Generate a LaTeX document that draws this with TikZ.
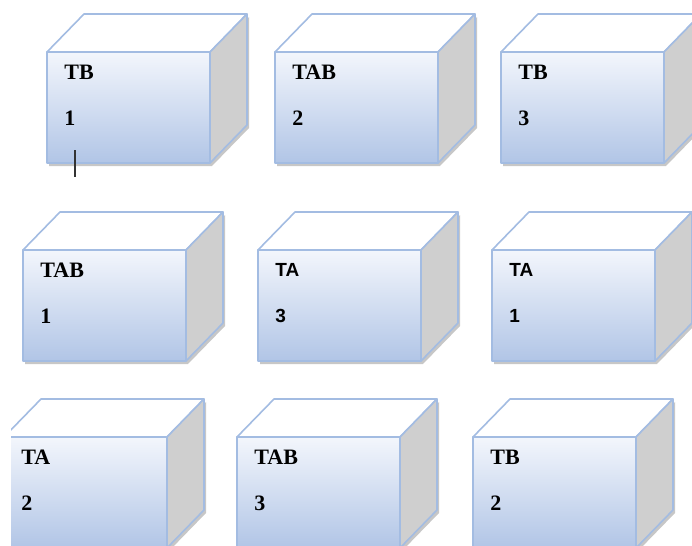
\documentclass[tikz,border=0pt]{standalone}
\usepackage{fontspec}
\setmainfont{Liberation Serif}
\newfontfamily\tafont{Liberation Sans}
\definecolor{faceline}{HTML}{A3BCE2}
\definecolor{facetop}{HTML}{F3F6FC}
\definecolor{facebot}{HTML}{B1C5E6}
\definecolor{sidegray}{HTML}{CFCFCF}
\tikzset{
  front/.style={draw=faceline,line width=0.8pt,top color=facetop,bottom color=facebot},
  side/.style={draw=faceline,line width=0.8pt,fill=sidegray,line join=round},
  lid/.style={draw=faceline,line width=0.8pt,fill=white,line join=round},
  boxshadow/.style={fill=black!22,draw=none},
  lbl/.style={anchor=west,inner sep=0pt,font=\fontsize{11}{13}\selectfont\bfseries},
  lblsans/.style={anchor=west,inner sep=0pt,font=\tafont\fontsize{9.5}{11}\selectfont\bfseries},
}
\newcommand\drawcrate[6]{%
  \fill[boxshadow] (#2+2,#3+3) -- (#2+165,#3+3) -- (#2+202,#3-35) -- (#2+202,#3+76)
    -- (#2+165,#3+114) -- (#2+2,#3+114) -- cycle;
  \draw[front] (#2,#3) rectangle (#2+163,#3+111);
  \draw[lid] (#2,#3) -- (#2+37,#3-38) -- (#2+200,#3-38) -- (#2+163,#3) -- cycle;
  \draw[side] (#2+163,#3) -- (#2+200,#3-38) -- (#2+200,#3+73) -- (#2+163,#3+111) -- cycle;
  \node[#4] (#1word) at (#2+17,#3+20) {#5};
  \node[#4] (#1num) at (#2+17,#3+66) {#6};
}
\begin{document}
\begin{tikzpicture}[x=0.5pt,y=-0.5pt,line join=round]
  \useasboundingbox (0,0) rectangle (692,546);
  \clip (11,0) rectangle (692,546);
  \drawcrate{ra}{47}{52}{lbl}{TB}{1}
  \drawcrate{rb}{275}{52}{lbl}{TAB}{2}
  \drawcrate{rc}{501}{52}{lbl}{TB}{3}
  \drawcrate{sa}{23}{250}{lbl}{TAB}{1}
  \drawcrate{sb}{258}{250}{lblsans}{TA}{3}
  \drawcrate{sc}{492}{250}{lblsans}{TA}{1}
  \drawcrate{ta}{4}{437}{lbl}{TA}{2}
  \drawcrate{tb}{237}{437}{lbl}{TAB}{3}
  \drawcrate{tc}{473}{437}{lbl}{TB}{2}
  \coordinate (tick top) at (75,150);
  \coordinate (tick end) at (75,177);
  \draw[black!80,line width=0.6pt] (tick top) -- (tick end);
\end{tikzpicture}
\end{document}
